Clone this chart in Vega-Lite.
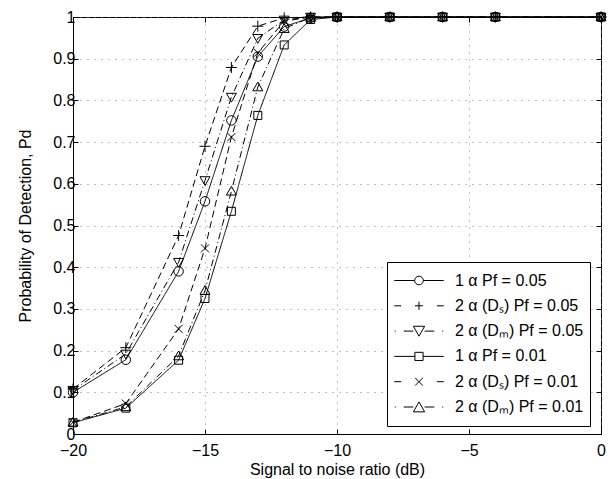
{
  "$schema": "https://vega.github.io/schema/vega-lite/v6.json",
  "width": 528,
  "height": 417,
  "autosize": "none",
  "padding": {"left": 73, "top": 17, "right": 13, "bottom": 45},
  "background": "white",
  "config": {
    "font": "Liberation Sans",
    "view": {"stroke": "black", "strokeWidth": 1},
    "axis": {
      "labelFont": "Liberation Sans",
      "labelFontSize": 16,
      "labelColor": "black",
      "labelFlush": false,
      "titleFont": "Liberation Sans",
      "titleFontSize": 16,
      "titleFontWeight": "normal",
      "titleColor": "black",
      "domainColor": "black",
      "tickColor": "black",
      "tickSize": -5,
      "gridColor": "#808080",
      "gridOpacity": 1,
      "gridDash": [1, 6],
      "gridWidth": 1
    }
  },
  "data": {
    "values": [
      {"s": "1 α Pf = 0.05", "x": -20, "y": 0.100},
      {"s": "1 α Pf = 0.05", "x": -18, "y": 0.178},
      {"s": "1 α Pf = 0.05", "x": -16, "y": 0.390},
      {"s": "1 α Pf = 0.05", "x": -15, "y": 0.558},
      {"s": "1 α Pf = 0.05", "x": -14, "y": 0.752},
      {"s": "1 α Pf = 0.05", "x": -13, "y": 0.905},
      {"s": "1 α Pf = 0.05", "x": -12, "y": 0.977},
      {"s": "1 α Pf = 0.05", "x": -11, "y": 0.998},
      {"s": "1 α Pf = 0.05", "x": -10, "y": 1},
      {"s": "1 α Pf = 0.05", "x": -8, "y": 1},
      {"s": "1 α Pf = 0.05", "x": -6, "y": 1},
      {"s": "1 α Pf = 0.05", "x": -4, "y": 1},
      {"s": "1 α Pf = 0.05", "x": 0, "y": 1},
      {"s": "2 α (Dₛ) Pf = 0.05", "x": -20, "y": 0.108},
      {"s": "2 α (Dₛ) Pf = 0.05", "x": -18, "y": 0.207},
      {"s": "2 α (Dₛ) Pf = 0.05", "x": -16, "y": 0.476},
      {"s": "2 α (Dₛ) Pf = 0.05", "x": -15, "y": 0.690},
      {"s": "2 α (Dₛ) Pf = 0.05", "x": -14, "y": 0.879},
      {"s": "2 α (Dₛ) Pf = 0.05", "x": -13, "y": 0.978},
      {"s": "2 α (Dₛ) Pf = 0.05", "x": -12, "y": 0.998},
      {"s": "2 α (Dₛ) Pf = 0.05", "x": -11, "y": 1},
      {"s": "2 α (Dₛ) Pf = 0.05", "x": -10, "y": 1},
      {"s": "2 α (Dₛ) Pf = 0.05", "x": -8, "y": 1},
      {"s": "2 α (Dₛ) Pf = 0.05", "x": -6, "y": 1},
      {"s": "2 α (Dₛ) Pf = 0.05", "x": -4, "y": 1},
      {"s": "2 α (Dₛ) Pf = 0.05", "x": 0, "y": 1},
      {"s": "2 α (Dₘ) Pf = 0.05", "x": -20, "y": 0.105},
      {"s": "2 α (Dₘ) Pf = 0.05", "x": -18, "y": 0.192},
      {"s": "2 α (Dₘ) Pf = 0.05", "x": -16, "y": 0.412},
      {"s": "2 α (Dₘ) Pf = 0.05", "x": -15, "y": 0.608},
      {"s": "2 α (Dₘ) Pf = 0.05", "x": -14, "y": 0.808},
      {"s": "2 α (Dₘ) Pf = 0.05", "x": -13, "y": 0.949},
      {"s": "2 α (Dₘ) Pf = 0.05", "x": -12, "y": 0.993},
      {"s": "2 α (Dₘ) Pf = 0.05", "x": -11, "y": 1},
      {"s": "2 α (Dₘ) Pf = 0.05", "x": -10, "y": 1},
      {"s": "2 α (Dₘ) Pf = 0.05", "x": -8, "y": 1},
      {"s": "2 α (Dₘ) Pf = 0.05", "x": -6, "y": 1},
      {"s": "2 α (Dₘ) Pf = 0.05", "x": -4, "y": 1},
      {"s": "2 α (Dₘ) Pf = 0.05", "x": 0, "y": 1},
      {"s": "1 α Pf = 0.01", "x": -20, "y": 0.027},
      {"s": "1 α Pf = 0.01", "x": -18, "y": 0.062},
      {"s": "1 α Pf = 0.01", "x": -16, "y": 0.177},
      {"s": "1 α Pf = 0.01", "x": -15, "y": 0.325},
      {"s": "1 α Pf = 0.01", "x": -14, "y": 0.534},
      {"s": "1 α Pf = 0.01", "x": -13, "y": 0.764},
      {"s": "1 α Pf = 0.01", "x": -12, "y": 0.933},
      {"s": "1 α Pf = 0.01", "x": -11, "y": 0.994},
      {"s": "1 α Pf = 0.01", "x": -10, "y": 1},
      {"s": "1 α Pf = 0.01", "x": -8, "y": 1},
      {"s": "1 α Pf = 0.01", "x": -6, "y": 1},
      {"s": "1 α Pf = 0.01", "x": -4, "y": 1},
      {"s": "1 α Pf = 0.01", "x": 0, "y": 1},
      {"s": "2 α (Dₛ) Pf = 0.01", "x": -20, "y": 0.028},
      {"s": "2 α (Dₛ) Pf = 0.01", "x": -18, "y": 0.073},
      {"s": "2 α (Dₛ) Pf = 0.01", "x": -16, "y": 0.252},
      {"s": "2 α (Dₛ) Pf = 0.01", "x": -15, "y": 0.445},
      {"s": "2 α (Dₛ) Pf = 0.01", "x": -14, "y": 0.712},
      {"s": "2 α (Dₛ) Pf = 0.01", "x": -13, "y": 0.914},
      {"s": "2 α (Dₛ) Pf = 0.01", "x": -12, "y": 0.990},
      {"s": "2 α (Dₛ) Pf = 0.01", "x": -11, "y": 1},
      {"s": "2 α (Dₛ) Pf = 0.01", "x": -10, "y": 1},
      {"s": "2 α (Dₛ) Pf = 0.01", "x": -8, "y": 1},
      {"s": "2 α (Dₛ) Pf = 0.01", "x": -6, "y": 1},
      {"s": "2 α (Dₛ) Pf = 0.01", "x": -4, "y": 1},
      {"s": "2 α (Dₛ) Pf = 0.01", "x": 0, "y": 1},
      {"s": "2 α (Dₘ) Pf = 0.01", "x": -20, "y": 0.028},
      {"s": "2 α (Dₘ) Pf = 0.01", "x": -18, "y": 0.065},
      {"s": "2 α (Dₘ) Pf = 0.01", "x": -16, "y": 0.187},
      {"s": "2 α (Dₘ) Pf = 0.01", "x": -15, "y": 0.344},
      {"s": "2 α (Dₘ) Pf = 0.01", "x": -14, "y": 0.582},
      {"s": "2 α (Dₘ) Pf = 0.01", "x": -13, "y": 0.832},
      {"s": "2 α (Dₘ) Pf = 0.01", "x": -12, "y": 0.972},
      {"s": "2 α (Dₘ) Pf = 0.01", "x": -11, "y": 0.999},
      {"s": "2 α (Dₘ) Pf = 0.01", "x": -10, "y": 1},
      {"s": "2 α (Dₘ) Pf = 0.01", "x": -8, "y": 1},
      {"s": "2 α (Dₘ) Pf = 0.01", "x": -6, "y": 1},
      {"s": "2 α (Dₘ) Pf = 0.01", "x": -4, "y": 1},
      {"s": "2 α (Dₘ) Pf = 0.01", "x": 0, "y": 1}
    ]
  },
  "layer": [
    {
      "mark": {"type": "line", "color": "black", "strokeWidth": 1},
      "encoding": {
        "x": {
          "field": "x",
          "type": "quantitative",
          "scale": {"domain": [-20, 0], "nice": false, "zero": false},
          "axis": {"values": [-20, -15, -10, -5, 0], "grid": true, "title": "Signal to noise ratio (dB)", "labelPadding": 13, "titlePadding": 3, "format": "~g"}
        },
        "y": {
          "field": "y",
          "type": "quantitative",
          "scale": {"domain": [0, 1], "nice": false},
          "axis": {"values": [0, 0.1, 0.2, 0.3, 0.4, 0.5, 0.6, 0.7, 0.8, 0.9, 1], "grid": true, "title": "Probability of Detection, Pd", "format": "~g", "labelPadding": 3, "titlePadding": 19}
        },
        "strokeDash": {
          "field": "s",
          "type": "nominal",
          "scale": {
            "domain": ["2 α (Dₘ) Pf = 0.01", "2 α (Dₛ) Pf = 0.01", "1 α Pf = 0.01", "2 α (Dₘ) Pf = 0.05", "2 α (Dₛ) Pf = 0.05", "1 α Pf = 0.05"],
            "range": [[7, 3, 1, 3], [7, 4], [1, 0], [7, 3, 1, 3], [7, 4], [1, 0]]
          },
          "legend": null
        }
      }
    },
    {
      "mark": {"type": "point", "filled": false, "color": "black", "strokeWidth": 1, "size": 100, "opacity": 1},
      "encoding": {
        "x": {"field": "x", "type": "quantitative", "scale": {"domain": [-20, 0], "nice": false, "zero": false}, "axis": null},
        "y": {"field": "y", "type": "quantitative", "scale": {"domain": [0, 1], "nice": false}, "axis": null},
        "shape": {
          "field": "s",
          "type": "nominal",
          "scale": {
            "domain": ["2 α (Dₛ) Pf = 0.05", "1 α Pf = 0.05", "2 α (Dₘ) Pf = 0.05", "1 α Pf = 0.01", "2 α (Dₛ) Pf = 0.01", "2 α (Dₘ) Pf = 0.01"],
            "range": [
              "M-1.1,0H1.1M0,-1.1V1.1",
              "M0.95,0A0.95,0.95 0 1,1 -0.95,0A0.95,0.95 0 1,1 0.95,0Z",
              "M-1,-0.75L1,-0.75L0,1Z",
              "M-0.8,-0.8H0.8V0.8H-0.8Z",
              "M-0.8,-0.8L0.8,0.8M-0.8,0.8L0.8,-0.8",
              "M-1,0.75L1,0.75L0,-1Z"
            ]
          },
          "legend": null
        }
      }
    },
    {
      "transform": [{"filter": "false"}],
      "mark": {"type": "point", "filled": false, "color": "black", "strokeWidth": 1, "opacity": 1},
      "encoding": {
        "x": {"field": "x", "type": "quantitative", "scale": {"domain": [-20, 0], "nice": false, "zero": false}, "axis": {"orient": "top", "values": [-20, -15, -10, -5, 0], "labels": false, "title": null, "grid": false, "domain": false}},
        "y": {"field": "y", "type": "quantitative", "scale": {"domain": [0, 1], "nice": false}, "axis": {"orient": "right", "values": [0, 0.1, 0.2, 0.3, 0.4, 0.5, 0.6, 0.7, 0.8, 0.9, 1], "labels": false, "title": null, "grid": false, "domain": false}},
        "shape": {
          "field": "s",
          "type": "nominal",
          "scale": {
            "domain": ["1 α Pf = 0.05", "2 α (Dₛ) Pf = 0.05", "2 α (Dₘ) Pf = 0.05", "1 α Pf = 0.01", "2 α (Dₛ) Pf = 0.01", "2 α (Dₘ) Pf = 0.01"],
            "range": [
              "M-0.97,0H-0.17M0.17,0H0.97M0.17,0A0.17,0.17 0 1,1 -0.17,0A0.17,0.17 0 1,1 0.17,0",
              "M-0.97,0H-0.7M0.7,0H0.97M-0.16,0H0.16M0,-0.16V0.16",
              "M-0.95,0H-0.91M-0.6,0H-0.22M0.22,0H0.6M0.91,0H0.95M-0.22,-0.19L0.22,-0.19L0,0.2Z",
              "M-0.97,0H-0.16M0.16,0H0.97M-0.16,-0.16H0.16V0.16H-0.16Z",
              "M-0.97,0H-0.7M0.7,0H0.97M-0.15,-0.15L0.15,0.15M-0.15,0.15L0.15,-0.15",
              "M-0.95,0H-0.91M-0.6,0H-0.22M0.22,0H0.6M0.91,0H0.95M-0.22,0.19L0.22,0.19L0,-0.2Z"
            ]
          },
          "legend": {
            "title": null,
            "orient": "none",
            "legendX": 314,
            "legendY": 245,
            "strokeColor": "black",
            "fillColor": "white",
            "padding": 6,
            "rowPadding": 0.3,
            "clipHeight": 25,
            "symbolSize": 2601,
            "symbolStrokeWidth": 1,
            "symbolStrokeColor": "black",
            "symbolFillColor": "transparent",
            "symbolOpacity": 1,
            "labelFont": "Liberation Sans",
            "labelFontSize": 16,
            "labelColor": "black",
            "labelOffset": 10,
            "labelLimit": 0
          }
        }
      }
    }
  ],
  "resolve": {
    "scale": {"shape": "independent", "strokeDash": "independent"},
    "legend": {"shape": "independent"},
    "axis": {"x": "independent", "y": "independent"}
  }
}
